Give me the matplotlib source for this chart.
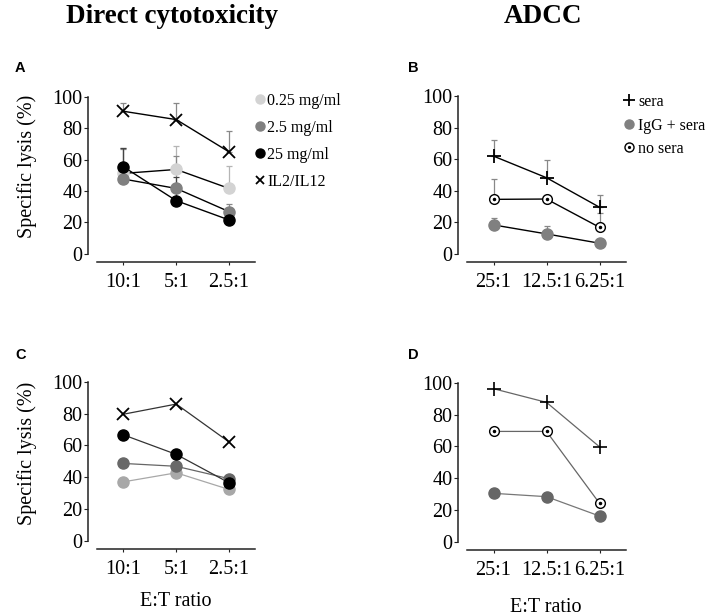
import matplotlib.pyplot as plt
from matplotlib.legend_handler import HandlerTuple
from matplotlib.lines import Line2D

plt.rcParams['font.family'] = ['Liberation Serif', 'DejaVu Serif']

# data
ratios_direct = ['10:1', '5:1', '2.5:1']
ratios_adcc = ['25:1', '12.5:1', '6.25:1']
direct_labels = ['0.25 mg/ml', '2.5 mg/ml', '25 mg/ml', 'IL2/IL12']
adcc_labels = ['sera', 'IgG + sera', 'no sera']

# panel A (mean, upper error)
a_025 = [51.3, 53.8, 41.7]
a_025_err = [16.0, 15.0, 14.0]
a_25 = [47.7, 41.7, 26.9]
a_25_err = [19.0, 21.0, 4.7]
a_250 = [55.5, 33.9, 21.6]
a_250_err = [12.3, 15.0, 2.0]
a_il = [90.9, 85.6, 65.0]
a_il_err = [5.5, 10.5, 13.4]

# panel B
b_sera = [61.9, 48.2, 29.5]
b_sera_err = [10.5, 11.0, 7.8]
b_igg = [18.3, 12.6, 6.7]
b_igg_err = [4.2, 4.7, 0.0]
b_nosera = [34.5, 34.7, 16.8]
b_nosera_err = [12.9, 0.0, 9.3]

# panel C
c_025 = [37.1, 42.8, 32.3]
c_25 = [48.7, 46.9, 39.1]
c_250 = [66.7, 54.4, 36.5]
c_il = [79.7, 86.1, 62.2]

# panel D
d_sera = [96.4, 87.8, 59.8]
d_igg = [30.5, 28.4, 16.2]
d_nosera = [69.5, 69.5, 24.2]

W, H = 709, 616
fig = plt.figure(figsize=(W / 100, H / 100), dpi=100)


def make_ax(left, top, right, bottom):
    ax = fig.add_axes([left / W, 1 - bottom / H, (right - left) / W, (bottom - top) / H])
    ax.set_xlim(-0.5, 2.5)
    ax.set_ylim(-5.2, 100)
    ax.spines['top'].set_visible(False)
    ax.spines['right'].set_visible(False)
    ax.spines['left'].set_position(('outward', 6.5))
    ax.spines['left'].set_bounds(0, 100)
    for s in ['left', 'bottom']:
        ax.spines[s].set_linewidth(1.1)
        ax.spines[s].set_color('#222222')
    ax.set_yticks([0, 20, 40, 60, 80, 100])
    ax.tick_params(axis='y', length=3, width=0.8, labelsize=14.5, pad=1, color='#222222')
    ax.tick_params(axis='x', length=2, width=0.8, labelsize=14.5, pad=6, color='#222222')
    return ax


def errs(ax, x, y, e, color):
    ax.errorbar(x, y, yerr=[[0] * len(e), e], fmt='none', ecolor=color,
                elinewidth=0.9, capsize=2, capthick=0.9, clip_on=False, zorder=2)


def open_dot(ax, x, y, color, lw):
    ax.plot(x, y, '-', color=color, lw=lw, zorder=3)
    ax.plot(x, y, 'o', ms=7, mfc='white', mec='black', mew=1.0, zorder=4, clip_on=False)
    ax.plot(x, y, 'o', ms=1.5, color='black', zorder=5, clip_on=False)


xs = [0, 1, 2]

# ---- A ----
axA = make_ax(97, 97, 255.5, 262)
errs(axA, xs, a_il, a_il_err, '#888888')
errs(axA, xs, a_025, a_025_err, '#b5b5b5')
errs(axA, xs, a_25, a_25_err, '#888888')
errs(axA, xs, a_250, a_250_err, '#444444')
for vals, col in [(a_025, '#d3d3d3'), (a_25, '#808080'), (a_250, '#000000')]:
    axA.plot(xs, vals, '-', color='black', lw=1.0, zorder=3)
    axA.plot(xs, vals, 'o', ms=8, color=col, zorder=4, clip_on=False)
axA.plot(xs, a_il, '-', color='black', lw=1.0, zorder=3)
axA.plot(xs, a_il, 'x', ms=8, mew=1.3, color='black', zorder=4, clip_on=False)
axA.set_xticks(xs, ratios_direct)
axA.set_ylabel('Specific lysis (%)', fontsize=14.5)
axA.yaxis.set_label_coords(-0.38, 0.58)

hA = [Line2D([], [], ls='', marker='o', ms=6.5, color=c) for c in ['#d3d3d3', '#808080', '#000000']]
hA.append(Line2D([], [], ls='', marker='x', ms=6, mew=1.3, color='black'))
fig.legend(hA, direct_labels, loc='upper left', bbox_to_anchor=(256 / W, 1 - 93 / H),
           frameon=False, fontsize=11.5, handlelength=0.5, handletextpad=0.2,
           labelspacing=0.68, borderpad=0, borderaxespad=0)

# ---- B ----
axB = make_ax(467, 96, 626, 262)
errs(axB, xs, b_sera, b_sera_err, '#888888')
errs(axB, xs, b_nosera, b_nosera_err, '#888888')
errs(axB, xs, b_igg, b_igg_err, '#888888')
axB.plot(xs, b_sera, '-', color='black', lw=1.0, zorder=3)
axB.plot(xs, b_sera, '+', ms=10, mew=1.3, color='black', zorder=4, clip_on=False)
axB.plot(xs, b_igg, '-', color='black', lw=1.0, zorder=3)
axB.plot(xs, b_igg, 'o', ms=8, color='#808080', zorder=4, clip_on=False)
open_dot(axB, xs, b_nosera, 'black', 1.0)
axB.set_xticks(xs, ratios_adcc)

hB = [Line2D([], [], ls='', marker='+', ms=8, mew=1.3, color='black'),
      Line2D([], [], ls='', marker='o', ms=6.5, color='#808080'),
      (Line2D([], [], ls='', marker='o', ms=6.5, mfc='white', mec='black', mew=1.0),
       Line2D([], [], ls='', marker='o', ms=1.3, color='black'))]
fig.legend(hB, adcc_labels, loc='upper left', bbox_to_anchor=(625 / W, 1 - 94 / H),
           frameon=False, fontsize=11.5, handlelength=0.5, handletextpad=0.32,
           labelspacing=0.47, borderpad=0, borderaxespad=0,
           handler_map={tuple: HandlerTuple(ndivide=1, pad=0)})

# ---- C ----
axC = make_ax(97, 382, 255.5, 549)
for vals, col, lc in [(c_025, '#a8a8a8', '#a8a8a8'), (c_25, '#686868', '#666666'),
                      (c_250, '#000000', '#333333')]:
    axC.plot(xs, vals, '-', color=lc, lw=0.9, zorder=3)
    axC.plot(xs, vals, 'o', ms=8, color=col, zorder=4, clip_on=False)
axC.plot(xs, c_il, '-', color='#333333', lw=0.9, zorder=3)
axC.plot(xs, c_il, 'x', ms=8, mew=1.3, color='black', zorder=4, clip_on=False)
axC.set_xticks(xs, ratios_direct)
axC.set_ylabel('Specific lysis (%)', fontsize=14.5)
axC.yaxis.set_label_coords(-0.38, 0.575)

# ---- D ----
axD = make_ax(467, 383, 626, 550)
axD.plot(xs, d_sera, '-', color='#666666', lw=0.9, zorder=3)
axD.plot(xs, d_sera, '+', ms=10, mew=1.2, color='black', zorder=4, clip_on=False)
axD.plot(xs, d_igg, '-', color='#777777', lw=0.9, zorder=3)
axD.plot(xs, d_igg, 'o', ms=8, color='#666666', zorder=4, clip_on=False)
open_dot(axD, xs, d_nosera, '#666666', 0.9)
axD.set_xticks(xs, ratios_adcc)

# headers, x titles and panel letters
fig.text(172 / W, 1 - 23 / H, 'Direct cytotoxicity', ha='center', va='baseline',
         fontsize=19.5, fontweight='bold')
fig.text(543 / W, 1 - 23 / H, 'ADCC', ha='center', va='baseline',
         fontsize=19.5, fontweight='bold')
fig.text(176 / W, 1 - 602 / H, 'E:T ratio', ha='center', va='center', fontsize=14.5)
fig.text(546 / W, 1 - 607 / H, 'E:T ratio', ha='center', va='center', fontsize=14.5)
for lab, x, y in [('A', 15, 68), ('B', 408, 68), ('C', 15, 355), ('D', 408, 355)]:
    fig.text(x / W, 1 - y / H, lab, ha='left', va='center', fontsize=10.5,
             fontweight='bold', family='Liberation Sans')

fig.savefig('out.png', dpi=100)
